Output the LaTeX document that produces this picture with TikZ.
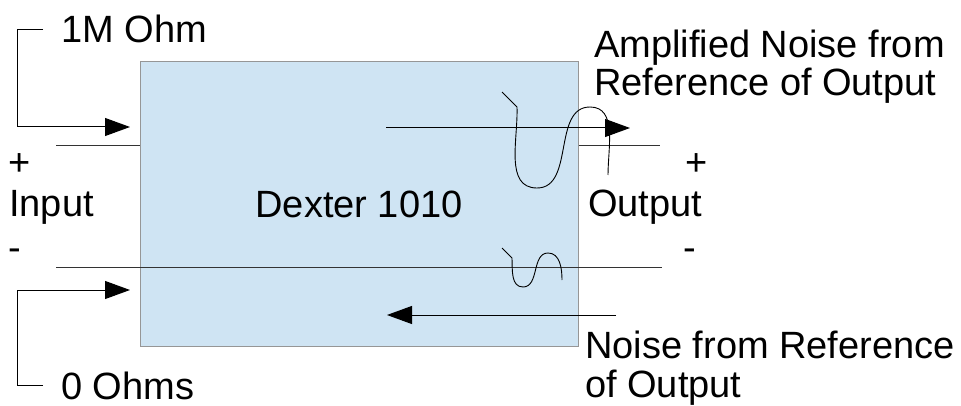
\documentclass[tikz,border=0pt]{standalone}
\usepackage{fontspec}
\setmainfont{Liberation Sans}
\usetikzlibrary{positioning, arrows.meta}

\definecolor{boxblue}{RGB}{207,228,243}
\definecolor{boxgray}{RGB}{150,150,150}

\tikzset{
    lbl/.style={inner sep=0pt, anchor=base west, font=\fontsize{38}{38.5}\selectfont, align=left},
    wire/.style={draw=black!80, line width=1pt},
    sig/.style={draw=black, line width=1pt, -{Triangle[length=25pt, width=18pt]}},
    noise/.style={draw=black, line width=0.9pt, line join=round}
}

\begin{document}
\begin{tikzpicture}[x=1pt, y=-1pt]
    \useasboundingbox (0,0) rectangle (961,406);

    % The amplifier
    \node[draw=boxgray, fill=boxblue, line width=1pt, minimum width=438pt, minimum height=284pt,
          inner sep=0pt, font=\fontsize{38}{38.5}\selectfont] (dexter) at (359,204) {Dexter 1010};

    % Labels
    \node[lbl] (ohm1) at (61,43) {1M Ohm};
    \node[lbl] (ohm0) at (61,399) {0 Ohms};
    \node[lbl] (plusin) at (8,176) {+};
    \node[lbl] (input) at (9,217) {Input};
    \node[lbl] (minusin) at (8,260) {-};
    \node[lbl] (plusout) at (685,176) {+};
    \node[lbl] (output) at (588,217) {Output};
    \node[lbl] (minusout) at (683,260) {-};
    \node[lbl] (ampnoise) at (594,96) {Amplified Noise from\\Reference of Output};
    \node[lbl] (refnoise) at (585,397) {Noise from Reference\\of Output};

    % Wire ends
    \coordinate (inplus) at (56,146);
    \coordinate (inminus) at (56,267);
    \coordinate (outplus) at (660,146);
    \coordinate (outminus) at (662,267);
    \coordinate (ohm1corner) at (17,127);
    \coordinate (ohm1tip) at (130,127);
    \coordinate (ohm0corner) at (17,290);
    \coordinate (ohm0tip) at (130,290);
    \coordinate (ampstart) at (386,128);
    \coordinate (amptip) at (630,128);
    \coordinate (refstart) at (616,315);
    \coordinate (reftip) at (387,315);

    % Wires
    \draw[wire] (inplus) -- (dexter.west |- inplus);
    \draw[wire] (inminus) -- (outminus);
    \draw[wire] (dexter.east |- outplus) -- (outplus);

    % Resistance arrows
    \draw[sig] ([xshift=-18pt]ohm1.west) -| (ohm1corner) -- (ohm1tip);
    \draw[sig] ([xshift=-18pt]ohm0.west) -| (ohm0corner) -- (ohm0tip);

    % Noise arrows
    \draw[sig] (ampstart) -- (amptip);
    \draw[sig] (refstart) -- (reftip);

    % Noise waves
    \draw[noise] (502,92) -- (517,107) to[out=-88, in=180] (537,188)
        to[out=0, in=180] (590,107) to[out=0, in=90] (608,175);
    \draw[noise] (502,248) -- (512,258) to[out=-88, in=180] (523,287)
        to[out=0, in=180] (548,253) to[out=0, in=90] (562,280);
\end{tikzpicture}
\end{document}
